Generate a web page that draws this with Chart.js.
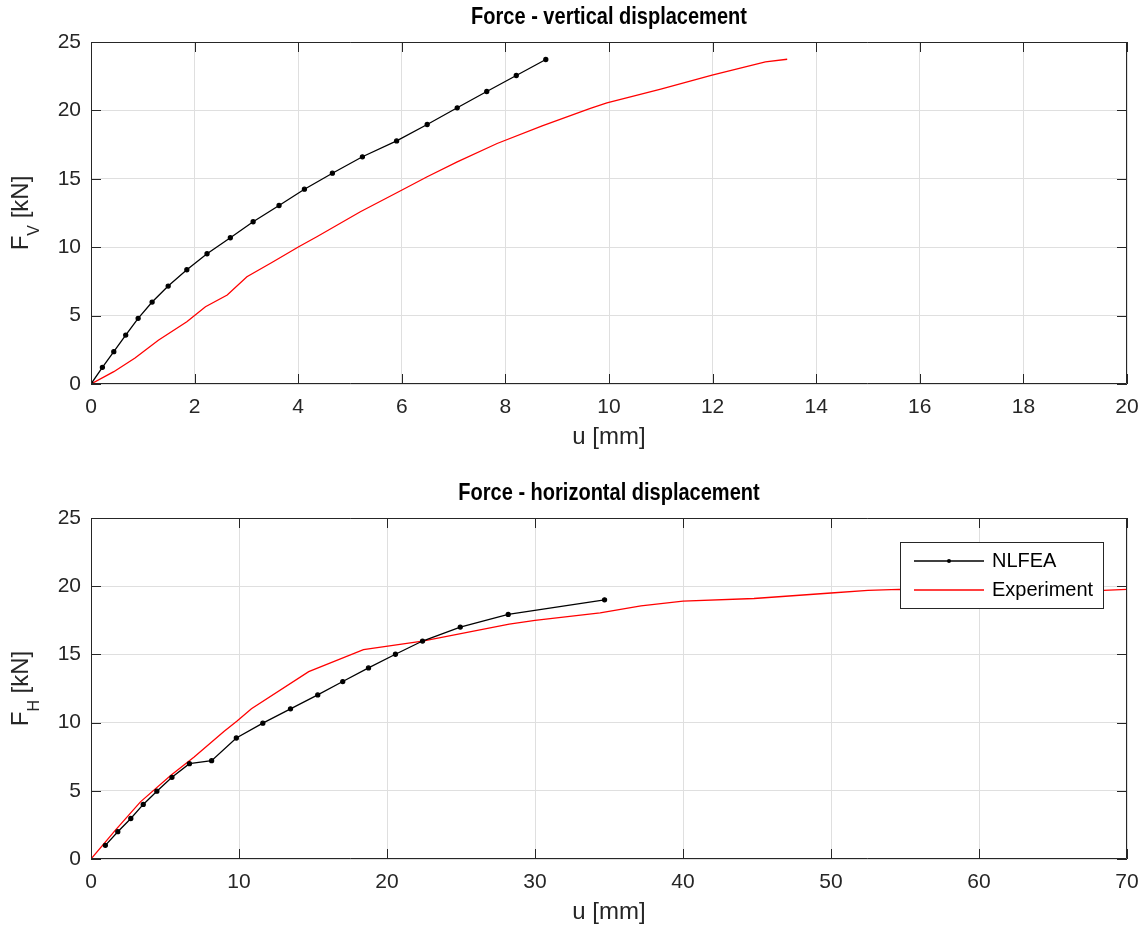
<!DOCTYPE html>
<html lang="en">

<head>
    <meta charset="UTF-8">
    <title>Force - displacement</title>
    <script src="https://cdn.jsdelivr.net/npm/chart.js@4.4.0/dist/chart.umd.min.js"></script>
    <style>
        body { margin: 0; background: #fff; }
        canvas { display: block; }
    </style>
</head>

<body>
    <canvas id="vertChart" width="1147" height="466"></canvas>
    <canvas id="horChart" width="1147" height="465"></canvas>
    <script>
        // vertical displacement u [mm] vs force Fv [kN]
        const vertNlfeaU = [0, 0.22, 0.44, 0.67, 0.91, 1.18, 1.49, 1.85, 2.24, 2.69, 3.13, 3.63, 4.12, 4.66, 5.24, 5.90, 6.49, 7.07, 7.64, 8.21, 8.78];
        const vertNlfeaF = [0, 1.22, 2.36, 3.58, 4.80, 5.99, 7.16, 8.35, 9.52, 10.69, 11.86, 13.05, 14.24, 15.41, 16.61, 17.77, 18.97, 20.19, 21.38, 22.55, 23.72];
        const vertExpU = [0, 0.44, 0.85, 1.30, 1.85, 2.21, 2.63, 3.01, 3.50, 4.01, 4.36, 5.20, 5.94, 6.49, 7.07, 7.84, 8.71, 9.64, 9.96, 11.0, 11.99, 13.02, 13.44];
        const vertExpF = [0, 0.90, 1.90, 3.20, 4.55, 5.65, 6.50, 7.84, 8.90, 10.03, 10.76, 12.59, 14.05, 15.15, 16.24, 17.58, 18.87, 20.14, 20.55, 21.55, 22.57, 23.55, 23.74];

        // horizontal displacement u [mm] vs force Fh [kN]
        const horNlfeaU = [0.97, 1.81, 2.69, 3.53, 4.45, 5.47, 6.65, 8.15, 9.82, 11.61, 13.48, 15.32, 17.01, 18.75, 20.57, 22.40, 24.95, 28.19, 34.70];
        const horNlfeaF = [1.00, 2.00, 2.97, 4.00, 4.97, 5.99, 6.99, 7.21, 8.87, 9.96, 11.01, 12.03, 13.01, 14.01, 15.01, 15.98, 17.00, 17.93, 19.00];
        const horExpU = [0, 1.65, 3.34, 5.40, 6.97, 8.98, 9.87, 10.84, 14.71, 18.41, 22.40, 28.26, 30.0, 34.4, 37.16, 40.0, 44.8, 50.0, 52.5, 54.6, 60.0, 68.4, 70.0];
        const horExpF = [0, 2.12, 4.19, 6.14, 7.48, 9.35, 10.11, 11.01, 13.74, 15.35, 15.98, 17.22, 17.50, 18.05, 18.56, 18.90, 19.10, 19.50, 19.70, 19.76, 19.75, 19.70, 19.76];

        const seriesNames = ['NLFEA', 'Experiment'];
        const vertXTicks = [0, 2, 4, 6, 8, 10, 12, 14, 16, 18, 20];
        const horXTicks = [0, 10, 20, 30, 40, 50, 60, 70];
        const forceTicks = [0, 5, 10, 15, 20, 25];

        const axisColor = '#262626';
        const gridColor = '#dfdfdf';
        const fontFamily = 'Arial, "Liberation Sans", Helvetica, sans-serif';

        function points(xs, ys) {
            return xs.map((x, i) => ({ x: x, y: ys[i] }));
        }

        // box, inward ticks, title, axis labels and optional legend
        const matlabAxes = {
            id: 'matlabAxes',
            afterDraw(chart, args, opts) {
                const ctx = chart.ctx;
                const a = chart.chartArea;
                const xs = chart.scales.x, ys = chart.scales.y;
                const tl = 10;
                ctx.save();
                ctx.strokeStyle = axisColor;
                ctx.lineWidth = 1;
                ctx.beginPath();
                ctx.rect(a.left + 0.5, a.top + 0.5, a.right - a.left - 1, a.bottom - a.top - 1);
                xs.ticks.forEach(t => {
                    const px = Math.round(xs.getPixelForValue(t.value)) + 0.5;
                    ctx.moveTo(px, a.bottom); ctx.lineTo(px, a.bottom - tl);
                    ctx.moveTo(px, a.top); ctx.lineTo(px, a.top + tl);
                });
                ys.ticks.forEach(t => {
                    const py = Math.round(ys.getPixelForValue(t.value)) + 0.5;
                    ctx.moveTo(a.left, py); ctx.lineTo(a.left + tl, py);
                    ctx.moveTo(a.right, py); ctx.lineTo(a.right - tl, py);
                });
                ctx.stroke();

                const cx = (a.left + a.right) / 2;

                // condensed bold title
                ctx.save();
                ctx.fillStyle = '#000';
                ctx.textAlign = 'center';
                ctx.textBaseline = 'middle';
                ctx.font = 'bold 23px ' + fontFamily;
                ctx.translate(cx, a.top - 24);
                ctx.scale(0.87, 1);
                ctx.fillText(opts.title, 0, 0);
                ctx.restore();

                ctx.fillStyle = axisColor;
                ctx.textAlign = 'center';
                ctx.textBaseline = 'middle';
                ctx.font = '24px ' + fontFamily;
                ctx.fillText('u [mm]', cx, a.bottom + 53);

                // y label with subscript, rotated; baseline of "F" at x = 28
                ctx.translate(28, (a.top + a.bottom) / 2);
                ctx.rotate(-Math.PI / 2);
                ctx.textAlign = 'left';
                ctx.textBaseline = 'alphabetic';
                const big = '24px ' + fontFamily, small = '16px ' + fontFamily;
                ctx.font = big;
                const wF = ctx.measureText('F').width;
                const wRest = ctx.measureText(' [kN]').width;
                ctx.font = small;
                const wSub = ctx.measureText(opts.sub).width;
                let x0 = -(wF + wSub + wRest) / 2;
                ctx.font = big;
                ctx.fillText('F', x0, 0);
                ctx.font = small;
                ctx.fillText(opts.sub, x0 + wF, 11);
                ctx.font = big;
                ctx.fillText(' [kN]', x0 + wF + wSub, 0);
                ctx.restore();

                if (opts.legend) {
                    const L = opts.legend;
                    ctx.save();
                    ctx.fillStyle = '#fff';
                    ctx.fillRect(L.x, L.y, L.w, L.h);
                    ctx.strokeStyle = axisColor;
                    ctx.lineWidth = 1;
                    ctx.strokeRect(L.x + 0.5, L.y + 0.5, L.w, L.h);
                    ctx.font = '20px ' + fontFamily;
                    ctx.textBaseline = 'middle';
                    chart.data.datasets.forEach((ds, i) => {
                        const yy = L.y + 19 + i * 29;
                        ctx.strokeStyle = ds.borderColor;
                        ctx.lineWidth = 1.3;
                        ctx.beginPath();
                        ctx.moveTo(L.x + 14, yy);
                        ctx.lineTo(L.x + 84, yy);
                        ctx.stroke();
                        if (ds.pointRadius > 0) {
                            ctx.fillStyle = ds.borderColor;
                            ctx.beginPath();
                            ctx.arc(L.x + 49, yy, 2, 0, Math.PI * 2);
                            ctx.fill();
                        }
                        ctx.fillStyle = '#000';
                        ctx.fillText(ds.label, L.x + 92, yy);
                    });
                    ctx.restore();
                }
            }
        };

        function makeChart(id, cfg) {
            const canvas = document.getElementById(id);
            return new Chart(canvas.getContext('2d'), {
                type: 'scatter',
                data: {
                    datasets: [{
                        label: seriesNames[0],
                        data: points(cfg.nU, cfg.nF),
                        borderColor: '#000000',
                        backgroundColor: '#000000',
                        borderWidth: 1.3,
                        pointRadius: 2,
                        pointHoverRadius: 2,
                        showLine: true,
                        order: 1
                    }, {
                        label: seriesNames[1],
                        data: points(cfg.eU, cfg.eF),
                        borderColor: '#ff0000',
                        backgroundColor: '#ff0000',
                        borderWidth: 1.3,
                        pointRadius: 0,
                        showLine: true,
                        order: 2
                    }]
                },
                options: {
                    responsive: false,
                    animation: false,
                    layout: { padding: { top: cfg.top, right: 20, left: 0, bottom: 0 } },
                    plugins: {
                        legend: { display: false },
                        tooltip: { enabled: false },
                        matlabAxes: { title: cfg.title, sub: cfg.sub, legend: cfg.legend }
                    },
                    scales: {
                        x: {
                            type: 'linear',
                            min: cfg.xTicks[0],
                            max: cfg.xTicks[cfg.xTicks.length - 1],
                            afterBuildTicks: s => { s.ticks = cfg.xTicks.map(v => ({ value: v })); },
                            afterFit: s => { s.height = cfg.xAxisH; s.paddingLeft = 0; s.paddingRight = 0; },
                            grid: { color: gridColor, drawTicks: false },
                            border: { display: false },
                            ticks: { color: axisColor, font: { size: 21, family: fontFamily }, padding: 11, maxRotation: 0 }
                        },
                        y: {
                            type: 'linear',
                            min: 0,
                            max: 25,
                            afterBuildTicks: s => { s.ticks = forceTicks.map(v => ({ value: v })); },
                            afterFit: s => { s.width = 91; s.paddingTop = 0; s.paddingBottom = 0; },
                            grid: { color: gridColor, drawTicks: false },
                            border: { display: false },
                            ticks: { color: axisColor, font: { size: 21, family: fontFamily }, padding: 10 }
                        }
                    }
                },
                plugins: [matlabAxes]
            });
        }

        makeChart('vertChart', {
            nU: vertNlfeaU, nF: vertNlfeaF, eU: vertExpU, eF: vertExpF,
            xTicks: vertXTicks, top: 42, xAxisH: 82,
            title: 'Force - vertical displacement', sub: 'V'
        });

        makeChart('horChart', {
            nU: horNlfeaU, nF: horNlfeaF, eU: horExpU, eF: horExpF,
            xTicks: horXTicks, top: 52, xAxisH: 72,
            title: 'Force - horizontal displacement', sub: 'H',
            legend: { x: 900, y: 76, w: 203, h: 66 }
        });
    </script>
</body>

</html>
